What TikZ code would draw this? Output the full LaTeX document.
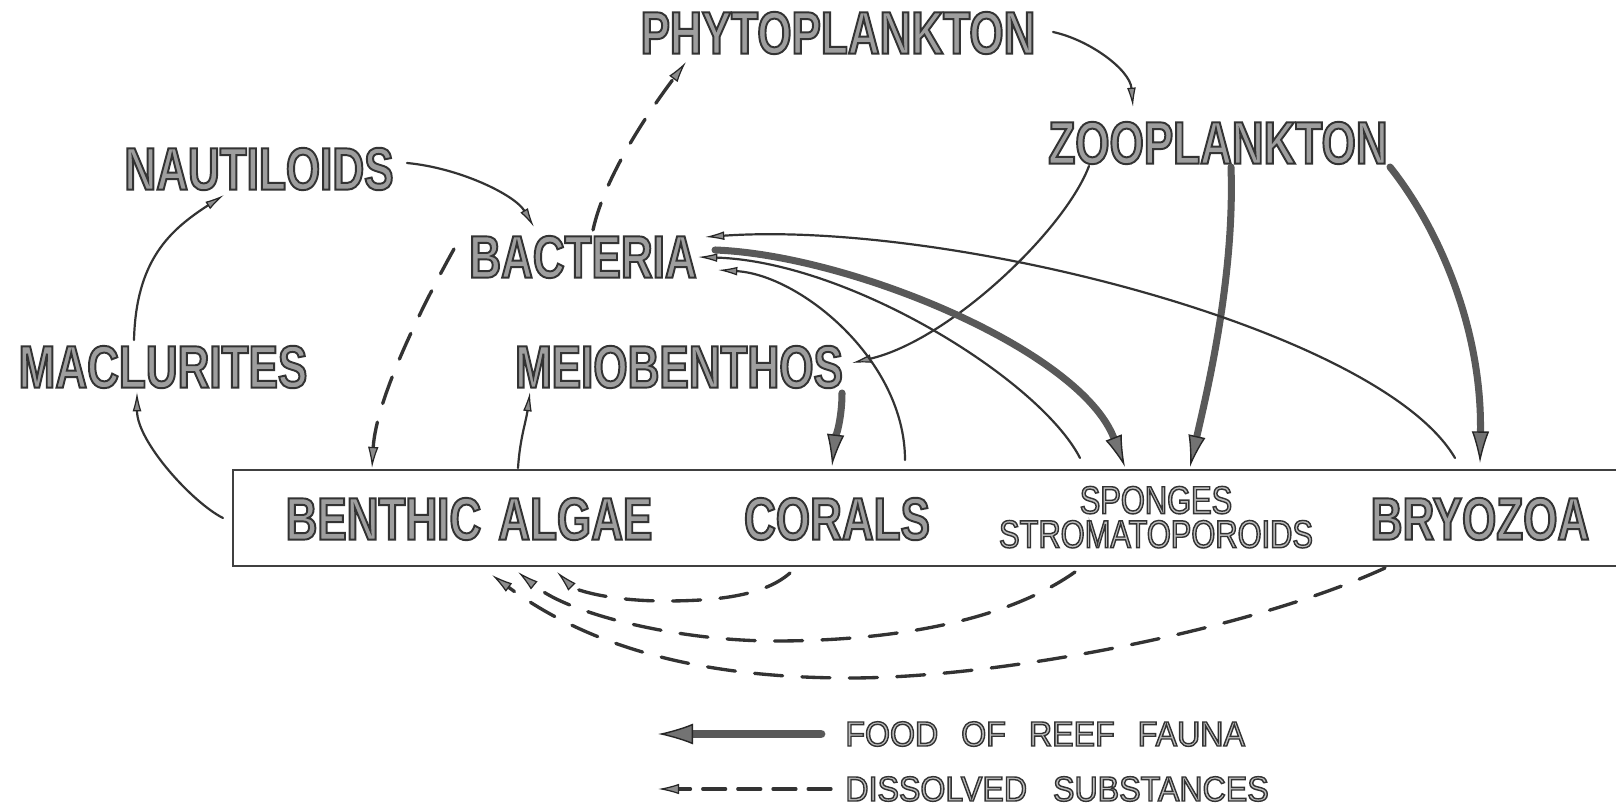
\documentclass[tikz,border=0pt]{standalone}
\usepackage{fontspec}
\usetikzlibrary{arrows.meta}
\newfontfamily\bigfont[FakeStretch=0.735]{Liberation Sans Bold}
\newfontfamily\smallfont[FakeStretch=0.79]{Liberation Sans}
\newfontfamily\legfont[FakeStretch=0.92]{Liberation Sans}
% outlined lettering: fill and stroke text rendering mode
\newcommand\outl[1]{\special{pdf:literal direct 2 Tr 1.1 w 0.2 G}#1\special{pdf:literal direct 0 Tr}}
\newcommand\outs[1]{\special{pdf:literal direct 2 Tr 0.8 w 0.2 G}#1\special{pdf:literal direct 0 Tr}}
\tikzset{
  biglab/.style={inner sep=0pt, text=black!38, font=\bigfont\fontsize{34.1}{40}\selectfont},
  smalllab/.style={inner sep=0pt, text=black!25, font=\smallfont\fontsize{22.2}{19.4}\selectfont},
  leglab/.style={inner sep=0pt, text=black!25, font=\legfont\fontsize{19.9}{24}\selectfont},
  thinarr/.style={draw=black!80, line width=1.25pt, line cap=round,
    -{Latex[length=11pt,width=5pt,line width=0.7pt,color=black!85,fill=black!45]}},
  thickarr/.style={draw=black!65, line width=4pt, line cap=round,
    -{Latex[length=18pt,width=10pt,line width=0.8pt,color=black!85,fill=black!55]}},
  dasharr/.style={draw=black!80, line width=1.9pt, line cap=round, dash pattern=on 16pt off 11pt,
    -{Latex[length=12pt,width=6pt,line width=0.7pt,color=black!85,fill=black!45]}},
  reefbox/.style={draw=black!75, line width=1.5pt, minimum width=28.12cm, minimum height=1.92cm, inner sep=0pt}
}
\begin{document}
\begin{tikzpicture}[x=0.02cm, y=-0.02cm]
\fill[white] (0,0) rectangle (1616,810);
\useasboundingbox (0,0) rectangle (1616,810);

% box
\node[reefbox] (box) at (936,518) {};

% labels
\node[biglab] (phyto) at (838,33) {\outl{PHYTOPLANKTON}};
\node[biglab] (zoo) at (1218,143) {\outl{ZOOPLANKTON}};
\node[biglab] (naut) at (259,169) {\outl{NAUTILOIDS}};
\node[biglab] (bact) at (583,257) {\outl{BACTERIA}};
\node[biglab] (mac) at (163,367) {\outl{MACLURITES}};
\node[biglab] (meio) at (679,367) {\outl{MEIOBENTHOS}};
\node[biglab] (algae) at (469,519) {\outl{BENTHIC\hspace{0.34cm}ALGAE}};
\node[biglab] (corals) at (837,519) {\outl{CORALS}};
\node[smalllab, align=center, anchor=north] (sponges) at (1156,486) {\outs{SPONGES}\\\outs{STROMATOPOROIDS}};
\node[biglab] (bryo) at (1480,519) {\outl{BRYOZOA}};

% connectors
\draw[thinarr] ([shift={(148,-6)}]naut.center) .. controls +(53,5) and +(-19,-32) .. ([shift={(-49,-30)}]bact.center);
\draw[thinarr] ([shift={(-29,-27)}]mac.center) .. controls +(2,-80) and +(-54,35) .. ([shift={(-35,26)}]naut.center);
\draw[thinarr] ([shift={(-713,0)}]box.center) .. controls +(-30,-15) and +(0,50) .. ([shift={(-26,25)}]mac.center);
\draw[thinarr] ([shift={(-418,-50)}]box.center) .. controls +(2,-30) and +(-4,30) .. ([shift={(-149,25)}]meio.center);
\draw[dasharr] ([shift={(-129,-8)}]bact.center) .. controls +(-34,61) and +(4,-68) .. ([shift={(-564,-50)}]box.center);
\draw[dasharr] ([shift={(10,-27)}]bact.center) .. controls +(12,-55) and +(-36,48) .. ([shift={(-152,29)}]phyto.center);
\draw[thinarr] ([shift={(215,-1)}]phyto.center) .. controls +(37,8) and +(-3,-37) .. ([shift={(-85,-36)}]zoo.center);
\draw[thinarr] ([shift={(-129,23)}]zoo.center) .. controls +(-24,64) and +(98,-23) .. ([shift={(173,-4)}]meio.center);
\draw[thickarr] ([shift={(13,24)}]zoo.center) .. controls +(4,113) and +(15,-67) .. ([shift={(254,-51)}]box.center);
\draw[thickarr] ([shift={(172,24)}]zoo.center) .. controls +(50,63) and +(2,-133) .. ([shift={(544,-55)}]box.center);
\draw[thickarr] ([shift={(163,26)}]meio.center) .. controls +(0,27) and +(3,-26) .. ([shift={(-104,-52)}]box.center);
\draw[thinarr] ([shift={(-31,-58)}]box.center) .. controls +(0,-100) and +(82,5) .. ([shift={(135,13)}]bact.center);
\draw[thinarr] ([shift={(144,-60)}]box.center) .. controls +(-40,-78) and +(152,5) .. ([shift={(115,0)}]bact.center);
\draw[thickarr] ([shift={(132,-7)}]bact.center) .. controls +(135,5) and +(-45,-117) .. ([shift={(189,-51)}]box.center);
\draw[thinarr] ([shift={(519,-60)}]box.center) .. controls +(-75,-128) and +(245,-17) .. ([shift={(122,-20)}]bact.center);

% dissolved substances to algae
\draw[dasharr] ([shift={(-146,55)}]box.center) .. controls (765,595) and (720,601) .. (665,601)
   .. controls (610,601) and (575,590) .. ([shift={(-379,54)}]box.center);
\draw[dasharr] ([shift={(139,54)}]box.center) .. controls (1000,625) and (880,641) .. (775,641)
   .. controls (680,641) and (570,615) .. ([shift={(-418,54)}]box.center);
\draw[dasharr] ([shift={(449,50)}]box.center) .. controls (1250,630) and (1000,678) .. (850,678)
   .. controls (720,678) and (600,655) .. ([shift={(-444,57)}]box.center);

% legend
\node[leglab, anchor=west] (food) at (845,734) {\outs{FOOD\hspace{0.46cm}OF\hspace{0.46cm}REEF\hspace{0.46cm}FAUNA}};
\node[leglab, anchor=west] (diss) at (845,789) {\outs{DISSOLVED\hspace{0.52cm}SUBSTANCES}};
\draw[draw=black!65, line width=5pt, line cap=round,
  -{Latex[length=20pt,width=12pt,line width=0.8pt,color=black!85,fill=black!55]}]
  ([shift={(-24,0)}]food.west) -- ([shift={(-187,0)}]food.west);
\draw[dasharr, dash pattern=on 13pt off 7pt] ([shift={(-14,0)}]diss.west) -- ([shift={(-187,0)}]diss.west);
\end{tikzpicture}
\end{document}
